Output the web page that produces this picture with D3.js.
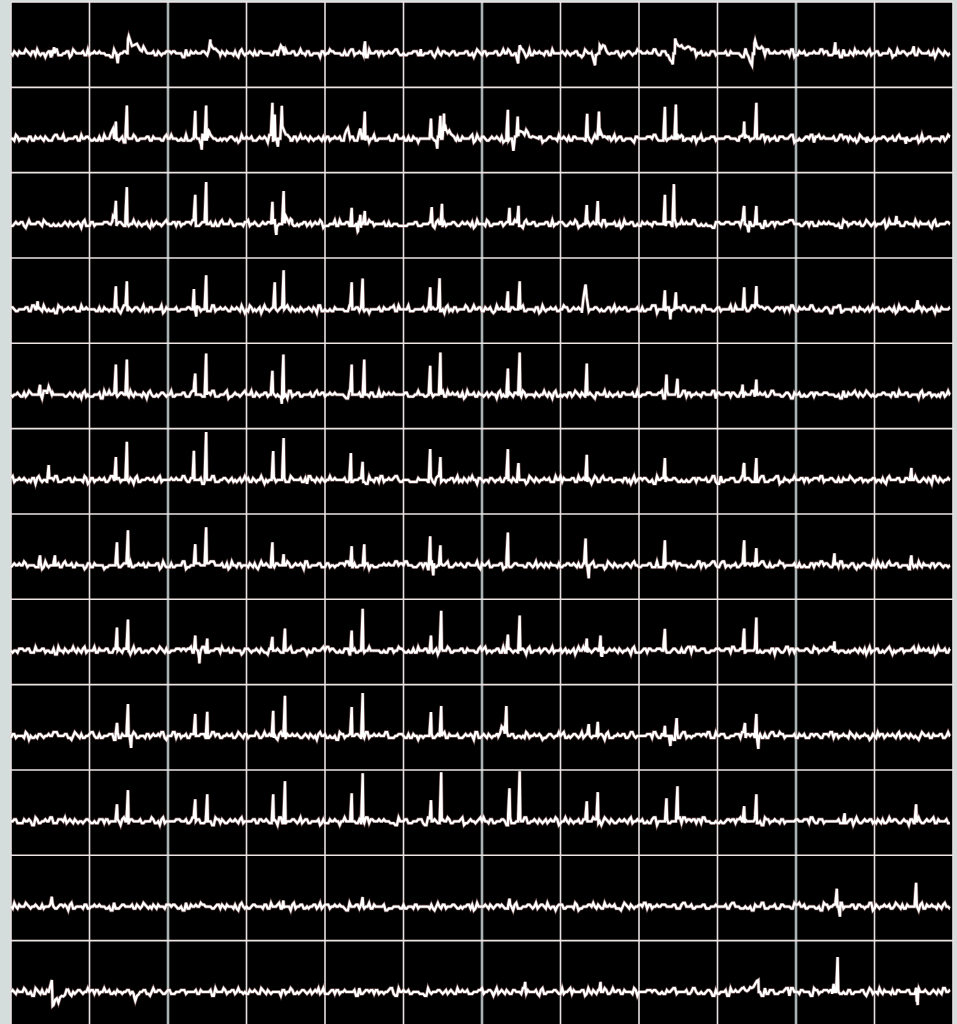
<!DOCTYPE html>
<html>
<head>
<meta charset="utf-8">
<script src="https://cdn.jsdelivr.net/npm/d3@7"></script>
<style>
html, body { margin: 0; padding: 0; background: #d5dcdc; overflow: hidden; }
svg { display: block; }
</style>
</head>
<body>
<svg id="chart"></svg>
<script>
var COLS = 12;

// baseline jitter per channel, one digit per sample, "4" = flat
// even samples
var noise1 = "453445346344543345264453 344543354345624435443534 543445353445345434543354 453354443534645344353445 345443546344534435344563 434543345344543534453445 354453446345443354435344 445345335443564345344534 543445354346344543453354 445354434543345645443534 354345443534454334654453 453445364534435443545344";
var noise2 = "435443544534354463445345 443534453354445344534435 464345335443545344354434 543354463445343544534453 344543545344354634453344 543534453445345433544634 543544533454435344534543 453354445344634543534435 443545334454354434463453 443545344535443534354453 344543563445344534435443 544534354443453345443545";
var noise3 = "344534435464345344534453 354435443546344534354435 443534543345453354463443 534435454344534334543545 344634453354435344543453 354463445354334543544534 435344543463354453445334 543545344354463443534453 354435443534463445345334 543544534354445343544563 443534354453344534543453 544634453354345443534454";
var noise4 = "543445354463344534453345 443564345344535443354463 445343544534335454434534 463354435443545334453463 443534354445354433545634 453344534543453354463445 354334543544534435344543 465354453445334543545344 354463443534543354435443 534463445345334543544534 354445343544563443534354 453344534543345534453445";
var noise5 = "445354534463345443534453 354544634453345434543354 463445353443545344634435 443534545334463453443545 344534354463445343544534 453354445344634543534435 443545334454354434463453 443545344535443534354453 344543563445344534435443 544534354443453345443545 453344543545344354634453 344543534453445345433544";
var noise6 = "534453345443546344534435 344563434543345344543534 453445354453446345443354 435344445345335443564345 344534543445354346344543 453354445354434543345645 443534354345443534454334 654453453445364534435443 545344453445346344543345 264453344543354345624435 443534543445353445345434 543354453354443534645344";
var noise7 = "354463443534453354435443 534463445345334543544534 354445343544563443534354 453344534543453544634453 354345443534454344534435 464345344534453354435443 546344534354435443534543 345453354463443534435454 344534334543545344634453 354435344543453354463445 354334543544534435344543 463354453445334543545344";
var noise8 = "443545334454354434463453 443545344535443534354453 344543563445344534435443 544534354443453345443545 435443544534354463445345 443534453354445344534435 464345335443545344354434 543354463445343544534453 344543545344354634453344 543534453445345433544634 543544533454435344534543 453354445344634543534435";
var noise9 = "354435443534463445345334 543544534354445343544563 443534354453344534543453 544634453354345443534454 543445354463344534453345 443564345344535443354463 445343544534335454434534 463354435443545334453463 443534354445354433545634 453344534543453354463445 354334543544534435344543 465354453445334543545344";
var noise10 = "453354445344634543534435 443545334454354434463453 443545344535443534354453 445354534463345443534453 354544634453345434543354 463445353443545344634435 443534545334463453443545 344534354463445343544534 453354445344634543534435 344543563445344534435443 544534354443453345443545 453344543545344354634453";
var noise11 = "463445354334543544534435 344543463354453445334543 545344354463443534543354 435443534463445345334543 544534354445343544563443 534354453344534543345534 453445534453345443546344 534435344563434543345344 543534453445354453446345 443354435344445345335443 564345344534543445354346 344543453354445354434543";
var noise12 = "445463445335443546344534 435344563434543345344543 534453445354453446345443 354435344445345335443564 345344534543445354346344 543453354445354434543345 645443534354345443534454 334654453453445364534435 443545344453445346344543 345264453344543354345624 435443534543445353445345 434543354453354443534645";

// odd samples
var ticks1 = "345364534425463445354436 453445263454435364453445 354426445354634453445263 445354435263445364534425 463445354453264534453645 344536445263544534453264 534453645344526345453644 534453264534463445235446 345264453544634452634453 645344526345463445354462 345445364534426453445364 534462345445364453264534";
var ticks2 = "463445354453264534453645 345364534425463445354436 344536445263544534453264 453445263454435364453445 534453645344526345453644 354426445354634453445263 534453264534463445235446 445354435263445364534425 345264453544634452634453 645344526345463445354462 534462345445364453264534 345445364534426453445364";
var ticks3 = "354426445354634453445263 534453264534463445235446 453445263454435364453445 645344526345463445354462 345364534425463445354436 344536445263544534453264 463445354453264534453645 534462345445364453264534 445354435263445364534425 345445364534426453445364 534453645344526345453644 345264453544634452634453";
var ticks4 = "534453645344526345453644 445354435263445364534425 645344526345463445354462 354426445354634453445263 345445364534426453445364 463445354453264534453645 345264453544634452634453 453445263454435364453445 534462345445364453264534 344536445263544534453264 345364534425463445354436 534453264534463445235446";
var ticks5 = "344536445263544534453264 345264453544634452634453 534453264534463445235446 463445354453264534453645 453445263454435364453445 534462345445364453264534 354426445354634453445263 345364534425463445354436 645344526345463445354462 445354435263445364534425 534453645344526345453644 345445364534426453445364";
var ticks6 = "645344526345463445354462 534453645344526345453644 345364534425463445354436 534462345445364453264534 463445354453264534453645 445354435263445364534425 345445364534426453445364 344536445263544534453264 354426445354634453445263 534453264534463445235446 453445263454435364453445 345264453544634452634453";
var ticks7 = "445354435263445364534425 354426445354634453445263 534462345445364453264534 345264453544634452634453 534453645344526345453644 645344526345463445354462 453445263454435364453445 345445364534426453445364 344536445263544534453264 463445354453264534453645 534453264534463445235446 345364534425463445354436";
var ticks8 = "345445364534426453445364 463445354453264534453645 445354435263445364534425 534453264534463445235446 645344526345463445354462 345364534425463445354436 534453645344526345453644 354426445354634453445263 453445263454435364453445 345264453544634452634453 344536445263544534453264 534462345445364453264534";
var ticks9 = "534462345445364453264534 645344526345463445354462 463445354453264534453645 344536445263544534453264 345264453544634452634453 354426445354634453445263 534453264534463445235446 534453645344526345453644 345364534425463445354436 453445263454435364453445 445354435263445364534425 345445364534426453445364";
var ticks10 = "453445263454435364453445 344536445263544534453264 345445364534426453445364 445354435263445364534425 354426445354634453445263 534453264534463445235446 645344526345463445354462 463445354453264534453645 534462345445364453264534 534453645344526345453644 345264453544634452634453 345364534425463445354436";
var ticks11 = "345264453544634452634453 453445263454435364453445 354426445354634453445263 345445364534426453445364 534453264534463445235446 344536445263544534453264 445354435263445364534425 534462345445364453264534 463445354453264534453645 345364534425463445354436 645344526345463445354462 534453645344526345453644";
var ticks12 = "534453264534463445235446 534462345445364453264534 534453645344526345453644 345364534425463445354436 344536445263544534453264 453445263454435364453445 345264453544634452634453 645344526345463445354462 445354435263445364534425 345445364534426453445364 354426445354634453445263 463445354453264534453645";

// events per channel: [t in columns, amplitude, left width, right width]
var events1 = [[0.51, -6], [0.55, 6], [1.36, -8, 0.02, 0.01], [1.49, 14, 0.005, 0.25], [2.54, 10, 0.04, 0.12],
  [3.42, 6, 0.03, 0.05], [3.47, 7], [4.51, 10], [5.22, 6], [6.46, -12, 0.03, 0.01], [6.48, 8, 0.005, 0.05],
  [7.44, -10, 0.05, 0.01], [7.5, 6, 0.005, 0.15], [8.43, -11, 0.06, 0.01], [8.46, 11, 0.005, 0.3],
  [9.44, -12, 0.08, 0.01], [9.47, 12, 0.005, 0.12], [10.5, 11], [11.5, 7]];
var events2 = [[1.3, 8, 0.05, 0.02], [1.336, 19], [1.476, 33], [2.347, 26], [2.43, -11], [2.486, 35], [2.52, 6, 0.01, 0.06],
  [3.33, 32], [3.36, 26], [3.40, -8], [3.45, 26], [3.46, 10, 0.02, 0.1], [4.30, 8, 0.06, 0.02], [4.45, 10, 0.04, 0.02], [4.507, 29],
  [5.35, 22], [5.43, -10], [5.47, 21], [5.516, 27], [5.53, 10, 0.01, 0.14], [6.33, 25], [6.40, -14, 0.02, 0.02], [6.455, 24], [6.47, 8, 0.01, 0.25],
  [7.34, 23], [7.49, 29], [7.5, 6, 0.01, 0.1], [8.33, 30], [8.47, 34], [8.5, 5, 0.01, 0.06], [9.32, 8, 0.04, 0.01], [9.34, 17], [9.495, 34],
  [10.9, -6], [11.4, -7]];
var events3 = [[1.30, 8, 0.05, 0.02], [1.336, 25], [1.476, 33], [2.347, 31], [2.486, 42], [3.33, 26], [3.38, -9], [3.473, 33], [3.5, 6, 0.01, 0.08],
  [4.34, 18], [4.42, -9], [4.45, 13], [4.507, 13], [5.36, 15], [5.49, 22], [6.35, 18], [6.465, 20], [7.335, 19], [7.475, 23],
  [8.33, 31], [8.445, 36], [9.34, 18], [9.4, -8], [9.495, 18], [11.28, 8]];
var events4 = [[0.34, 8], [1.336, 21], [1.476, 28], [2.33, 24], [2.36, -11], [2.486, 32], [3.36, 25], [3.473, 41], [4.34, 27], [4.48, 30],
  [5.34, 22], [5.46, 33], [6.33, 16], [6.48, 28], [7.32, 21, 0.05, 0.04], [8.33, 19], [8.40, -10], [8.47, 17],
  [9.34, 20], [9.495, 20], [9.5, 7, 0.02, 0.1], [10.58, -8], [11.55, 9]];
var events5 = [[0.37, 8], [0.48, 10, 0.03, 0.05], [1.336, 30], [1.476, 37], [2.347, 23], [2.486, 41], [3.33, 22], [3.45, -11], [3.47, 40],
  [4.34, 30], [4.50, 35], [5.34, 27], [5.47, 42], [6.33, 26], [6.48, 42], [7.335, 31], [8.35, 22], [8.49, 14], [9.32, 12], [9.495, 17]];
var events6 = [[0.48, 13], [1.336, 23], [1.476, 40], [2.33, 31], [2.486, 46], [3.34, 27], [3.473, 40], [4.33, 25], [4.48, 17],
  [5.34, 29], [5.47, 23], [6.33, 27], [6.465, 15], [7.335, 27], [8.33, 22], [9.34, 17], [9.495, 22], [11.47, 12]];
var events7 = [[0.37, 8], [0.56, 8], [1.35, 21], [1.49, 35], [2.347, 23], [2.486, 36], [3.33, 21], [3.473, 13], [4.34, 21], [4.50, 21],
  [5.34, 29], [5.38, -12], [5.47, 20], [6.33, 29], [7.32, 23], [7.36, -13], [8.33, 25], [9.34, 25], [9.495, 19], [10.49, 12], [11.47, 8]];
var events8 = [[1.35, 23], [1.49, 33], [2.347, 17], [2.4, -9], [2.50, 14], [3.33, 10], [3.49, 22], [4.34, 20], [4.48, 40],
  [5.35, 17], [5.48, 38], [6.33, 16], [6.48, 35], [7.335, 14], [7.51, 17], [7.53, -10], [8.33, 18], [9.34, 24], [9.495, 33], [10.49, 11]];
var events9 = [[1.35, 13], [1.49, 30], [1.53, -12], [2.347, 22], [2.50, 26], [3.34, 27], [3.49, 42], [4.34, 29], [4.48, 43],
  [5.35, 22], [5.48, 30], [6.28, 12, 0.08, 0.02], [6.31, 30], [7.36, 10], [7.475, 16], [8.33, 12], [8.40, -10], [8.48, 16],
  [9.35, 13], [9.495, 22], [9.52, -13]];
var events10 = [[1.35, 17], [1.49, 33], [2.347, 22], [2.50, 27], [3.34, 27], [3.49, 42], [4.34, 28], [4.48, 48], [5.35, 23], [5.48, 49],
  [6.35, 31], [6.48, 48], [7.335, 20], [7.475, 31], [8.35, 21], [8.49, 33], [9.34, 17], [9.495, 27], [10.62, 8], [11.53, 17]];
var events11 = [[0.52, 8], [3.47, 8], [4.48, 8], [6.35, 8], [10.52, 16], [10.56, -10], [11.53, 22]];
var events12 = [[0.52, 12, 0.04, 0.005], [0.53, -14, 0.005, 0.2], [1.57, -9, 0.02, 0.06], [6.55, 10], [7.51, 10],
  [9.52, 10, 0.2, 0.005], [10.48, 8], [10.53, 31], [11.53, 8], [11.55, -15]];

var noise = [noise1, noise2, noise3, noise4, noise5, noise6, noise7, noise8, noise9, noise10, noise11, noise12];
var ticks = [ticks1, ticks2, ticks3, ticks4, ticks5, ticks6, ticks7, ticks8, ticks9, ticks10, ticks11, ticks12];
var events = [events1, events2, events3, events4, events5, events6, events7, events8, events9, events10, events11, events12];

var WIDTH = 957, HEIGHT = 1024;
var LEFT = 11, RIGHT = 953, TOP = 2, ROW_H = 85.33;
var JITTER = 1.9, SPIKE_WL = 0.02, SPIKE_WR = 0.008;

var svg = d3.select("#chart").attr("width", WIDTH).attr("height", HEIGHT);

var x = d3.scaleLinear().domain([0, COLS]).range([LEFT, RIGHT]);

svg.append("rect")
  .attr("x", LEFT).attr("y", TOP)
  .attr("width", RIGHT - LEFT).attr("height", HEIGHT)
  .attr("fill", "#000");

function rowScale(r) {
  var top = TOP + r * ROW_H;
  return d3.scaleLinear().domain([-34, 51.3]).range([top + ROW_H, top]);
}

function digitsOf(s) {
  return s.replace(/ /g, "").split("").map(Number);
}

// sum of event triangles at time t
function eventValue(list, t) {
  var v = 0;
  list.forEach(function (e) {
    var wl = e[2] || SPIKE_WL, wr = e[3] || SPIKE_WR;
    if (t >= e[0] - wl && t <= e[0]) v += e[1] * (1 - (e[0] - t) / wl);
    else if (t > e[0] && t < e[0] + wr) v += e[1] * (1 - (t - e[0]) / wr);
  });
  return v;
}

function buildTrace(r) {
  var a = digitsOf(noise[r]), b = digitsOf(ticks[r]);
  var samples = [];
  a.forEach(function (d, i) {
    samples.push(d);
    if (i < b.length) samples.push(b[i]);
  });
  var step = COLS / samples.length;
  var list = events[r];
  var end = COLS - 0.04;
  var ts = samples.map(function (d, i) { return i * step; });
  list.forEach(function (e) {
    ts.push(e[0] - (e[2] || SPIKE_WL), e[0], e[0] + (e[3] || SPIKE_WR));
  });
  ts.push(end);
  ts = ts.filter(function (t) { return t >= 0 && t <= end; }).sort(d3.ascending);
  return ts.map(function (t) {
    var i = Math.min(samples.length - 1, Math.floor(t / step));
    return { t: t, v: (samples[i] - 4) * JITTER + eventValue(list, t) };
  });
}

// grid
var grid = svg.append("g");
d3.range(0, COLS + 1).forEach(function (c) {
  var heavy = (c % 4 === 2);
  grid.append("line")
    .attr("x1", x(c)).attr("x2", x(c))
    .attr("y1", TOP).attr("y2", HEIGHT)
    .attr("stroke", heavy ? "#aab3b3" : "#e8e0e0")
    .attr("stroke-width", heavy ? 2.6 : 1.6);
});
d3.range(0, 13).forEach(function (r) {
  var y = TOP + r * ROW_H;
  grid.append("line")
    .attr("x1", LEFT).attr("x2", RIGHT)
    .attr("y1", y).attr("y2", y)
    .attr("stroke", "#eee4e4")
    .attr("stroke-width", 1.6);
});

// traces
var traces = svg.append("g");
noise.forEach(function (n, r) {
  var y = rowScale(r);
  var line = d3.line()
    .x(function (d) { return x(d.t); })
    .y(function (d) { return y(d.v); });
  var data = buildTrace(r);
  traces.append("path")
    .attr("d", line(data))
    .attr("fill", "none")
    .attr("stroke", "#d89a9a")
    .attr("stroke-width", 3.6)
    .attr("stroke-opacity", 0.5);
  traces.append("path")
    .attr("d", line(data))
    .attr("fill", "none")
    .attr("stroke", "#fff")
    .attr("stroke-width", 2.3);
});
</script>
</body>
</html>
